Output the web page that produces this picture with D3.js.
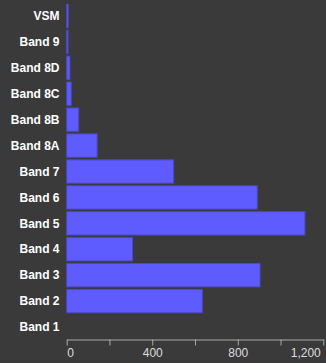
<!DOCTYPE html>
<html><head><meta charset="utf-8">
<script src="https://cdn.jsdelivr.net/npm/d3@7"></script>
<style>
html,body{margin:0;padding:0;background:#3a3a3a;}
svg{display:block;}
</style></head>
<body>
<script>
const categories = ["VSM","Band 9","Band 8D","Band 8C","Band 8B","Band 8A","Band 7","Band 6","Band 5","Band 4","Band 3","Band 2","Band 1"];
const values = [7,6,15,21,56,142,500,891,1114,308,904,634,0];
const tickValues = [0,200,400,600,800,1000,1200];
const tickLabels = ["0","","400","","800","","1,200"];

const W = 326, H = 363;
const svg = d3.select("body").append("svg").attr("width",W).attr("height",H);
svg.append("rect").attr("width",W).attr("height",H).attr("fill","#3a3a3a");

const x = d3.scaleLinear().domain([0,1200]).range([66.7,323.3]);
const y = d3.scaleBand().domain(categories).range([3,340]).paddingInner(0.1).paddingOuter(0.05);

svg.append("g").selectAll("rect").data(categories).join("rect")
  .attr("x", x(0))
  .attr("y", d => y(d))
  .attr("width", (d,i) => x(values[i]) - x(0))
  .attr("height", y.bandwidth())
  .attr("fill", "#5f5cff")
  .attr("stroke", "#4b49c4")
  .attr("stroke-width", 1);

svg.append("g").selectAll("text").data(categories).join("text")
  .attr("x", 59.5)
  .attr("y", d => y(d) + y.bandwidth()/2)
  .attr("dy", "0.35em")
  .attr("text-anchor", "end")
  .attr("fill", "#ffffff")
  .attr("font-family", "Liberation Sans, Arial, sans-serif")
  .attr("font-weight", "bold")
  .attr("font-size", "12px")
  .text(d => d);

const axis = d3.axisBottom(x).tickValues(tickValues).tickSize(6).tickSizeOuter(0)
  .tickFormat((d,i) => tickLabels[i]);
const ga = svg.append("g").attr("transform","translate(0,339.5)").call(axis);
ga.select(".domain").attr("stroke","#aaaaaa");
ga.selectAll(".tick line").attr("stroke","#aaaaaa");
ga.selectAll(".tick text")
  .attr("fill","#dddddd")
  .attr("font-family","Liberation Sans, Arial, sans-serif")
  .attr("font-size","12px")
  .attr("y", 9)
  .attr("dx", (d,i) => i === tickValues.length-1 ? -3 : 0)
  .attr("text-anchor", (d,i) => i === 0 ? "start" : (i === tickValues.length-1 ? "end" : "middle"));
</script>
</body></html>
